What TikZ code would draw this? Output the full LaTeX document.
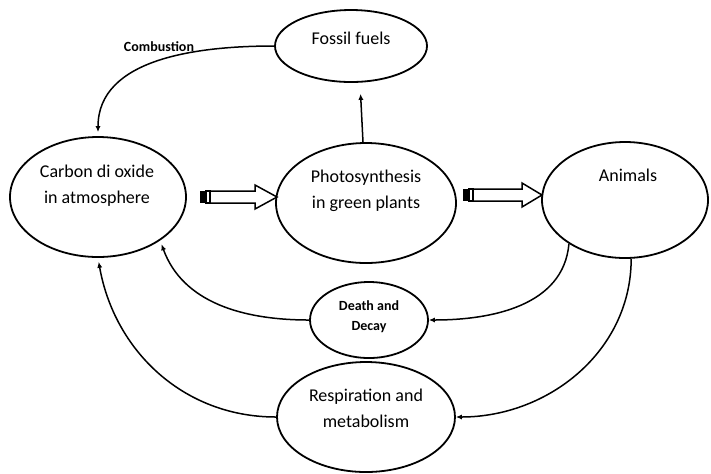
\documentclass[tikz,border=0pt]{standalone}
\usepackage{fontspec}
\setmainfont{Carlito}
\usetikzlibrary{arrows.meta,shapes.geometric}

\tikzset{
  cell/.style 2 args={draw, ellipse, line width=0.9pt, inner sep=0pt,
    minimum width=#1, minimum height=#2},
  txt/.style={align=center, font=\fontsize{9}{13}\selectfont},
  small/.style={align=center, font=\fontsize{7}{10}\selectfont\bfseries},
  conn/.style={line width=0.75pt, -{Latex[length=3pt,width=2.6pt]}},
  block/.style={line width=0.75pt, fill=white},
}

\begin{document}
\begin{tikzpicture}[x=0.5pt, y=-0.5pt]
  \useasboundingbox (0,0) rectangle (711,473);

  % ellipses
  \node[cell={88pt}{60pt}] (co2) at (98,197) {};
  \node[cell={90pt}{60pt}] (photo) at (366,203) {};
  \node[cell={76pt}{36pt}] (fossil) at (351,46) {};
  \node[cell={83pt}{58pt}] (animals) at (625,200) {};
  \node[cell={59pt}{38pt}] (decay) at (369,320) {};
  \node[cell={89pt}{55pt}] (resp) at (366,417) {};

  % texts
  \node[txt] at (351,38) {Fossil fuels};
  \node[txt] at (97,186) {Carbon di oxide\\in atmosphere};
  \node[txt] at (366,191) {Photosynthesis\\in green plants};
  \node[txt] at (628,175) {Animals};
  \node[small] at (369,317) {Death and\\Decay};
  \node[txt] at (366,408) {Respiration and\\metabolism};
  \node[small] at (159,47) {Combustion};

  % thin connectors
  \draw[conn, shorten >=2pt] (fossil.west) to[out=180, in=90] (co2.north);
  \draw[conn, shorten >=5.5pt] ([xshift=-1.5pt]photo.north) -- ([xshift=4.5pt]fossil.south);
  \draw[conn] (animals.218) to[out=-95, in=0] (decay.east);
  \draw[conn] (animals.276) to[out=-90, in=0] (resp.east);
  \draw[conn, shorten >=2pt] (decay.west) to[out=180, in=-70] (co2.325);
  \draw[conn, shorten >=2pt] (resp.west) to[out=180, in=-80] (co2.south);

  % block arrows
  \coordinate (tipA) at (277,197);
  \coordinate (tipB) at (542,195);
  \draw[block] (tipA) -- ++(-22,-12) -- ++(0,6) -- ++(-45,0) -- ++(0,12) -- ++(45,0) -- ++(0,6) -- cycle;
  \draw[block] ([shift={(-67,-6)}]tipA) rectangle ++(-4,12);
  \fill ([shift={(-71,-6)}]tipA) rectangle ++(-6,12);
  \draw[block] (tipB) -- ++(-20,-12) -- ++(0,6) -- ++(-49,0) -- ++(0,12) -- ++(49,0) -- ++(0,6) -- cycle;
  \draw[block] ([shift={(-69,-6)}]tipB) rectangle ++(-4,12);
  \fill ([shift={(-73,-6)}]tipB) rectangle ++(-6,12);
\end{tikzpicture}
\end{document}
